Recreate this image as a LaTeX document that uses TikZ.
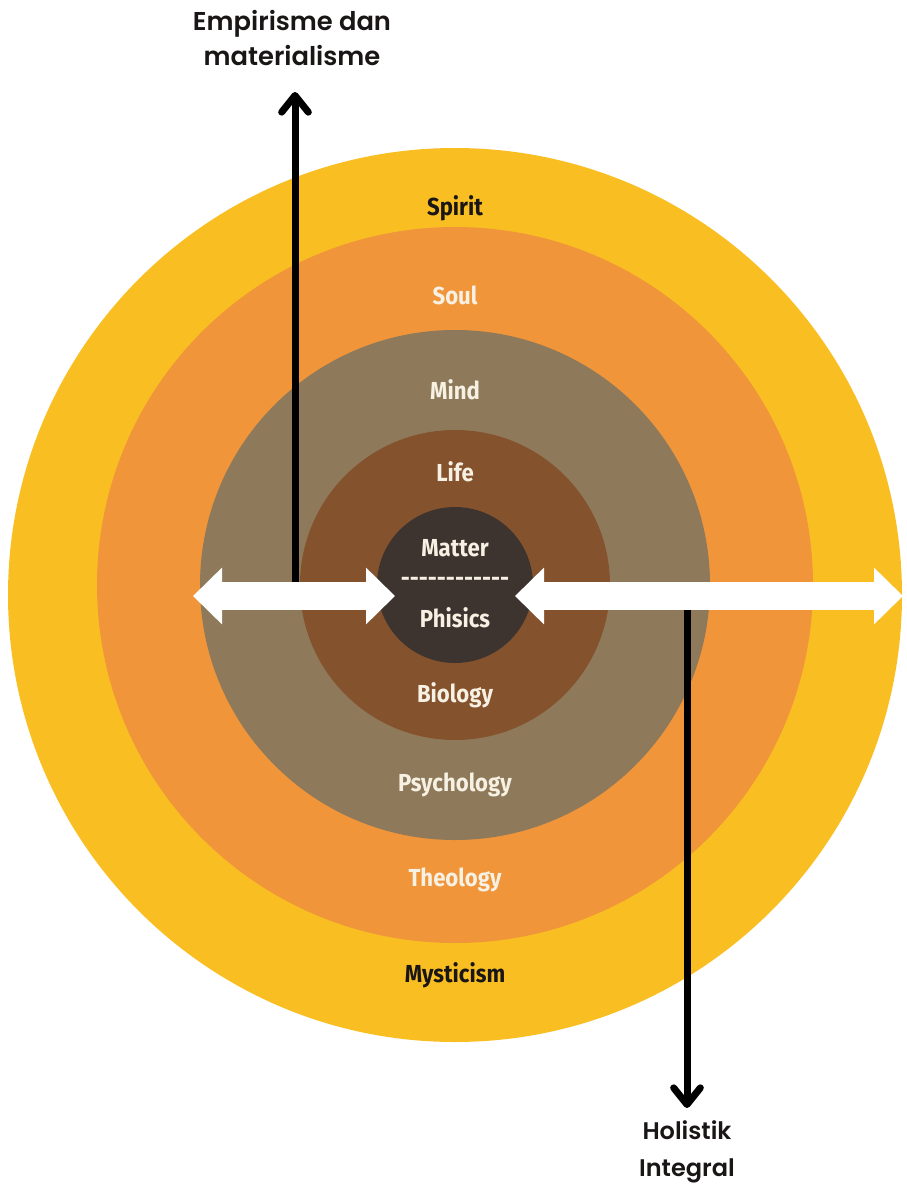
\documentclass[tikz,border=0pt]{standalone}
\usepackage{fontspec}
\usepackage{tikz}
\usetikzlibrary{arrows.meta}
\usetikzlibrary{positioning}
\newfontfamily\ringfont[FakeStretch=0.9]{Fira Sans}
\newfontfamily\headfont[UprightFont=* SemiBold]{Poppins}
\definecolor{spiritc}{HTML}{F9BF22}
\definecolor{soulc}{HTML}{F0953A}
\definecolor{mindc}{HTML}{8E7A5A}
\definecolor{lifec}{HTML}{85522E}
\definecolor{matterc}{HTML}{3D3430}
\definecolor{lightc}{HTML}{F7F1E3}
\definecolor{darkc}{HTML}{1A1616}

\begin{document}
\begin{tikzpicture}[x=0.03cm, y=-0.03cm,
				ringlabel/.style={font=\ringfont\bfseries\fontsize{21}{25}\selectfont, text=lightc, inner sep=0pt},
				darklabel/.style={ringlabel, text=darkc},
				headlabel/.style={font=\headfont\fontsize{22}{30}\selectfont, text=darkc, align=center, inner sep=0pt},
				blackarrow/.style={line width=0.21cm, line cap=round, -{Straight Barb[length=0.5cm, width=0.8cm, round]}},
				whitearrow/.style={white, line width=0.84cm, {Triangle[length=0.87cm, width=1.65cm]}-{Triangle[length=0.87cm, width=1.65cm]}}]
				\useasboundingbox (0,0) rectangle (907,1186);
				
				% rings
				\fill[spiritc] (455,595) circle[radius=447];
				\fill[soulc] (455,585) circle[radius=358];
				\fill[mindc] (455,585) circle[radius=255];
				\fill[lifec] (455,585) circle[radius=155];
				\fill[matterc] (455,585) circle[radius=78];
				
				\node[darklabel](spirit) at (455,208) {Spirit};
				\node[ringlabel](soul) at (455,295) {Soul};
				\node[ringlabel](mind) at (455,390) {Mind};
				\node[ringlabel](life) at (455,472) {Life};
				\node[ringlabel](matter) at (455,548) {Matter};
				\node[ringlabel](divider) at (455,582) {------------};
				\node[ringlabel](phisics) at (455,618) {Phisics};
				\node[ringlabel](biology) at (455,695) {Biology};
				\node[ringlabel](psychology) at (455,785) {Psychology};
				\node[ringlabel](theology) at (455,880) {Theology};
				\node[darklabel](mysticism) at (455,975) {Mysticism};
				
				\node[headlabel](empirisme) at (292,38) {Empirisme dan\\materialisme};
				\node[headlabel, font=\headfont\fontsize{20.5}{31}\selectfont](holistik) at (687,1152) {Holistik\\Integral};
				
				\coordinate (upfoot) at (295,596);
				\coordinate (uptip) at (295,92);
				\coordinate (downfoot) at (687,596);
				\coordinate (downtip) at (687,1108);
				\coordinate (leftend) at (193,596);
				\coordinate (leftin) at (395,596);
				\coordinate (rightin) at (515,596);
				\coordinate (rightend) at (903,596);
				
				\draw [blackarrow] (upfoot) -- (uptip);
				\draw [blackarrow] (downfoot) -- (downtip);
				\draw [whitearrow] (leftend) -- (leftin);
				\draw [whitearrow] (rightin) -- (rightend);
				
			\end{tikzpicture}
\end{document}
